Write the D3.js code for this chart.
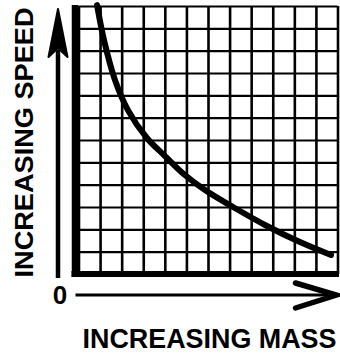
<!DOCTYPE html>
<html>
<head>
<meta charset="utf-8">
<script src="https://cdn.jsdelivr.net/npm/d3@7"></script>
<style>
  html, body { margin: 0; padding: 0; background: #fff; }
  svg { display: block; }
  text { font-family: "Liberation Sans", Arial, sans-serif; font-weight: bold; fill: #000; }
</style>
</head>
<body>
<svg id="chart" width="340" height="354"></svg>
<script>
// ---- data ----
const gridTicks = [0, 1, 2, 3, 4, 5, 6, 7, 8, 9, 10, 11, 12];
const curveMass = [0.86, 1.18, 1.69, 2.29, 3.17, 4.01, 4.93, 5.86, 7.16, 8.73, 10.26, 11.70];
const curveSpeed = [12.04, 10.48, 8.69, 7.34, 6.09, 5.28, 4.43, 3.76, 3.00, 2.15, 1.43, 0.85];
const originLabel = "0";
const xTitle = "INCREASING MASS";
const yTitle = "INCREASING SPEED";

const svg = d3.select("#chart");
svg.append("rect").attr("width", 340).attr("height", 354).attr("fill", "#fff");

const x = d3.scaleLinear().domain([0, 12]).range([78.5, 337.5]);
const y = d3.scaleLinear().domain([0, 12]).range([274, 6]);

// vertical grid lines
const gx = svg.append("g")
  .attr("transform", `translate(0,${y(0)})`)
  .call(d3.axisBottom(x).tickValues(gridTicks).tickSize(-(y(0) - y(12))).tickFormat(""));
gx.select(".domain").remove();
gx.selectAll(".tick line").attr("stroke", "#000").attr("stroke-width", 2.6);

// horizontal grid lines
const gy = svg.append("g")
  .attr("transform", `translate(${x(0)},0)`)
  .call(d3.axisLeft(y).tickValues(gridTicks).tickSize(-(x(12) - x(0))).tickFormat(""));
gy.select(".domain").remove();
gy.selectAll(".tick line").attr("stroke", "#000").attr("stroke-width", 2.1);

// thick left and bottom frame
svg.append("line")
  .attr("x1", x(0) - 3.5).attr("x2", x(0) - 3.5)
  .attr("y1", y(12) - 1).attr("y2", y(0) + 3)
  .attr("stroke", "#000").attr("stroke-width", 6.5);
svg.append("line")
  .attr("x1", x(0) - 7).attr("x2", x(12) + 1.5)
  .attr("y1", y(0)).attr("y2", y(0))
  .attr("stroke", "#000").attr("stroke-width", 6);

// curve
const pts = curveMass.map((m, i) => [m, curveSpeed[i]]);
svg.append("path")
  .datum(pts)
  .attr("fill", "none")
  .attr("stroke", "#000")
  .attr("stroke-width", 6)
  .attr("stroke-linecap", "round")
  .attr("d", d3.line().x(d => x(d[0])).y(d => y(d[1])).curve(d3.curveCatmullRom));

// Y arrow
const ax = x(0) - 20.5;
svg.append("line")
  .attr("x1", ax).attr("x2", ax)
  .attr("y1", 50).attr("y2", y(0) + 4)
  .attr("stroke", "#000").attr("stroke-width", 4.5);
svg.append("path")
  .attr("d", `M${ax},9 L${ax + 9.5},57 L${ax},48 L${ax - 9.5},57 Z`)
  .attr("fill", "#000").attr("stroke", "#000").attr("stroke-width", 2).attr("stroke-linejoin", "round");

// X arrow
const ay = y(0) + 21;
svg.append("line")
  .attr("x1", x(0) - 3).attr("x2", x(12) - 3)
  .attr("y1", ay).attr("y2", ay)
  .attr("stroke", "#000").attr("stroke-width", 3);
svg.append("path")
  .attr("d", `M${x(12) - 42},${ay - 12} L${x(12) - 1},${ay} L${x(12) - 42},${ay + 13}`)
  .attr("fill", "none").attr("stroke", "#000").attr("stroke-width", 5.5)
  .attr("stroke-linecap", "round").attr("stroke-linejoin", "miter");

// origin label
svg.append("text")
  .attr("x", ax + 2).attr("y", ay + 9)
  .attr("text-anchor", "middle")
  .attr("font-size", 26)
  .text(originLabel);

// axis titles
svg.append("text")
  .attr("x", 209.5).attr("y", 348)
  .attr("text-anchor", "middle")
  .attr("font-size", 27)
  .attr("textLength", 254).attr("lengthAdjust", "spacingAndGlyphs")
  .text(xTitle);

svg.append("text")
  .attr("transform", "translate(33,142.5) rotate(-90)")
  .attr("text-anchor", "middle")
  .attr("font-size", 26)
  .attr("textLength", 270).attr("lengthAdjust", "spacingAndGlyphs")
  .text(yTitle);
</script>
</body>
</html>
